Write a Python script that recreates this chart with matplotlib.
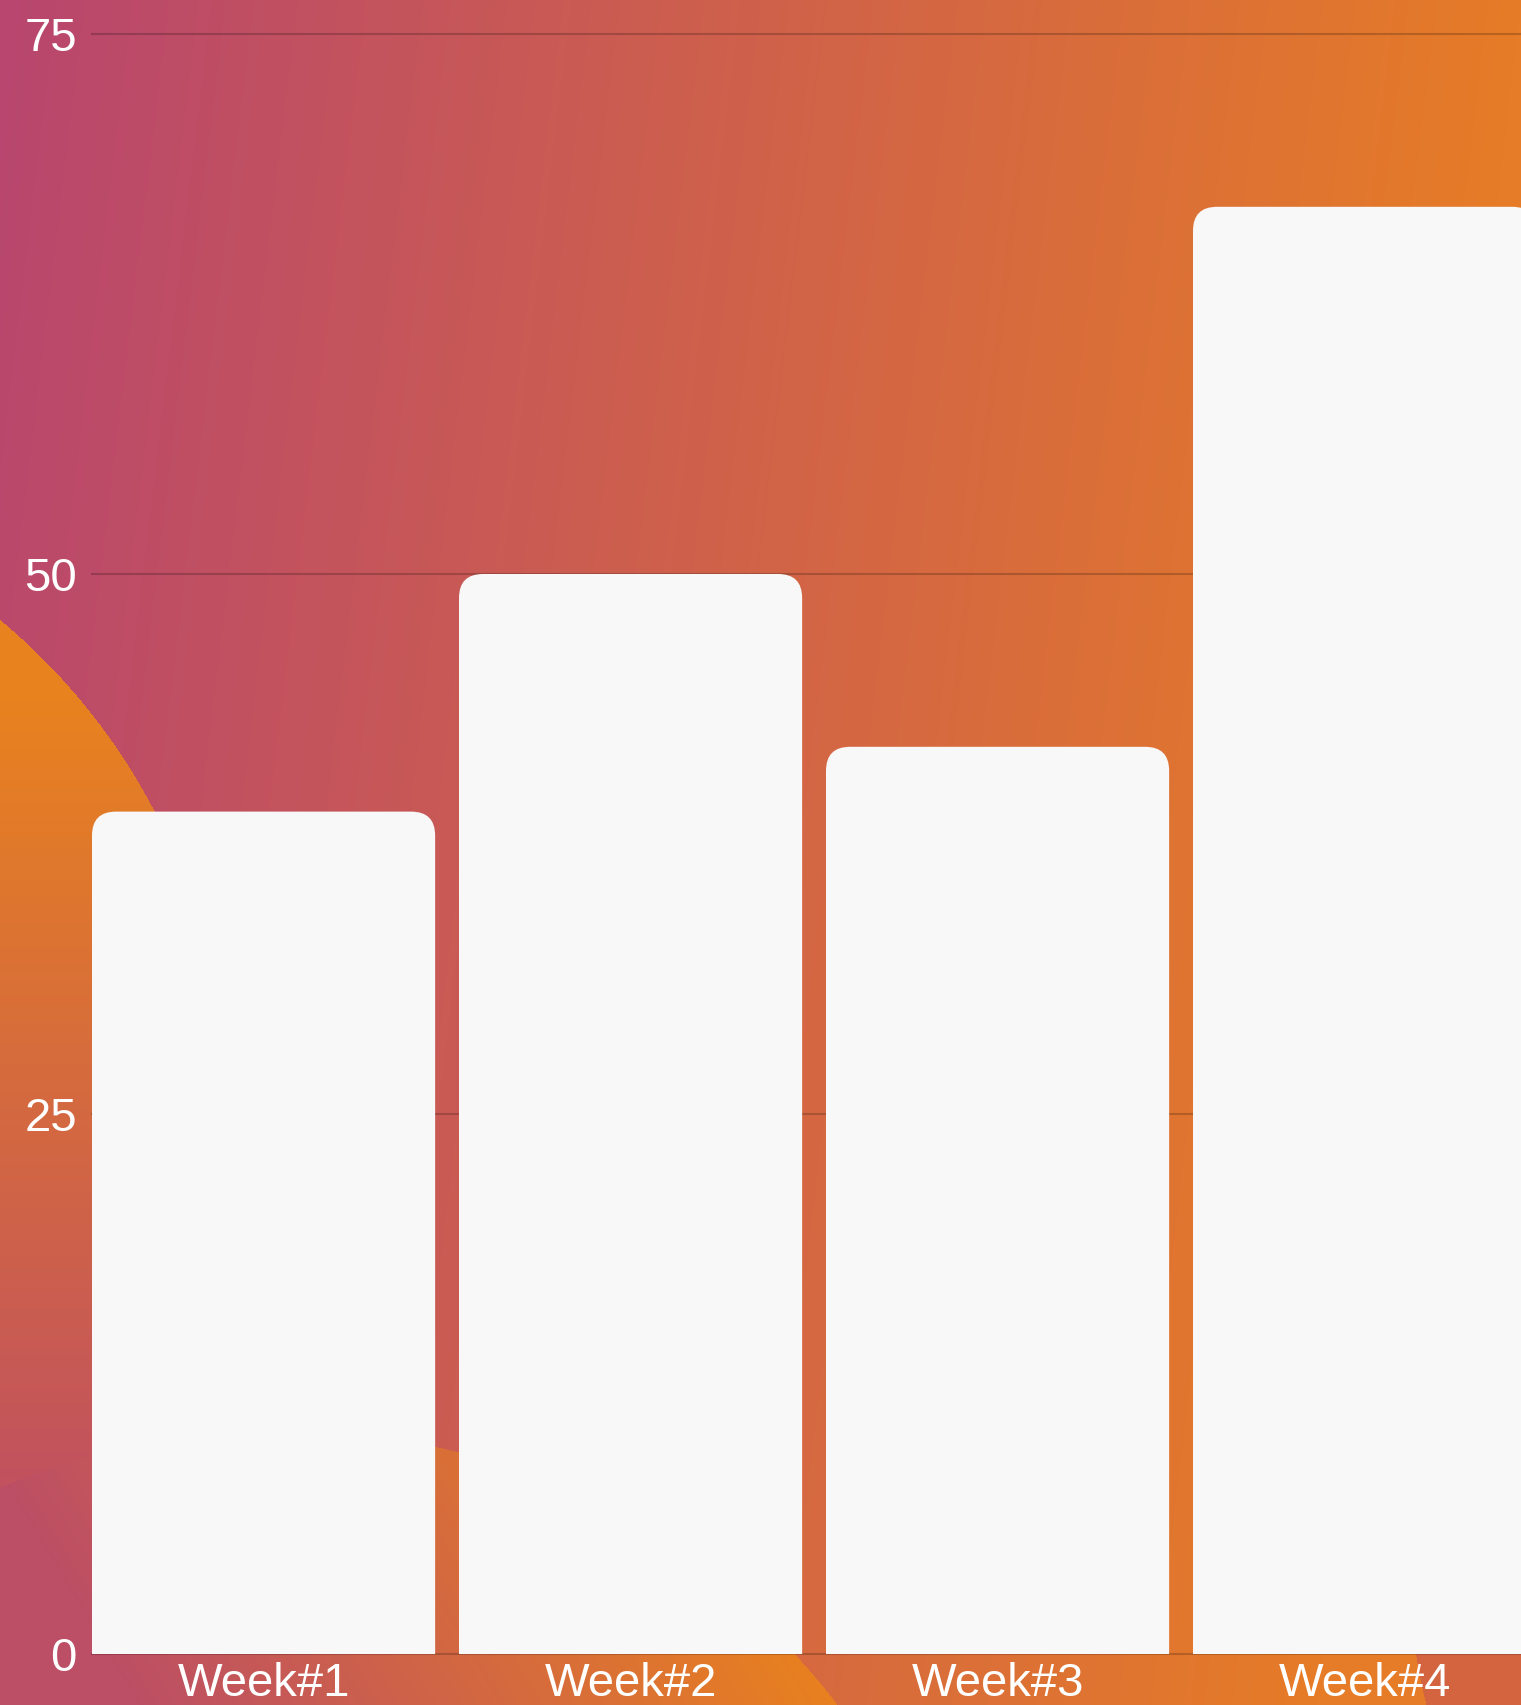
import numpy as np
import matplotlib
matplotlib.use('Agg')
import matplotlib.pyplot as plt
from matplotlib.patches import FancyBboxPatch

weeks = ['Week#1', 'Week#2', 'Week#3', 'Week#4']
values = [39, 50, 42, 67]
y_ticks = [0, 25, 50, 75]

W, H, DPI = 1521, 1705, 100
BAR_W = 0.935
plt.rcParams['font.family'] = ['Liberation Sans', 'DejaVu Sans']


def blend(c0, c1, t):
    c0 = np.array(c0) / 255
    c1 = np.array(c1) / 255
    return c0 + (c1 - c0) * t[..., None]


# background: pink -> orange gradient with a few soft circles
yy, xx = np.mgrid[0:H, 0:W].astype(float)
t = np.clip((xx + 0.12 * yy) / W, 0, 1)
bg = blend((184, 70, 111), (230, 124, 39), t)

m1 = (xx + 400) ** 2 + (yy - 1100) ** 2 <= 625 ** 2
c1 = blend((232, 130, 31), (190, 78, 100), np.clip((yy - 700) / 850, 0, 1))
bg[m1] = c1[m1]

m2 = (xx - 280) ** 2 + (yy - 2130) ** 2 <= 701 ** 2
c2 = blend((188, 78, 102), (232, 128, 32),
           np.clip((xx - 120 + 0.6 * (1690 - yy)) / 700, 0, 1))
bg[m2] = c2[m2]

m3 = (xx - 1900) ** 2 + (yy - 1580) ** 2 <= 490 ** 2
bg[m3] = np.array((212, 100, 63)) / 255

fig = plt.figure(figsize=(W / DPI, H / DPI), dpi=DPI)
bg_ax = fig.add_axes([0, 0, 1, 1])
bg_ax.imshow(bg, aspect='auto', interpolation='bilinear')
bg_ax.axis('off')

ax = fig.add_axes([92 / W, (H - 1654) / H, 1468 / W, 1620 / H])
ax.patch.set_alpha(0)
ax.set_xlim(-BAR_W / 2, len(weeks) - BAR_W / 2)
ax.set_ylim(0, 75)

for v in y_ticks:
    ax.axhline(v, color='black', alpha=0.2, lw=1.5, zorder=1, clip_on=False)

bars = ax.bar(range(len(weeks)), values, width=BAR_W, color='#F8F8F8', zorder=3)

# rounded top corners
px = ax.transData.transform([(0, 0), (1, 1)])
ux, uy = px[1] - px[0]
r = 24
for rect in bars:
    x0, w, h = rect.get_x(), rect.get_width(), rect.get_height()
    rect.set_visible(False)
    ax.add_patch(FancyBboxPatch((x0, -2 * r / uy), w, h + 2 * r / uy,
                                boxstyle=f'round,pad=0,rounding_size={r / ux}',
                                mutation_aspect=ux / uy,
                                fc='#F8F8F8', ec='none', zorder=3))

ax.set_xticks(range(len(weeks)))
ax.set_xticklabels(weeks)
ax.set_yticks(y_ticks)
ax.tick_params(axis='y', length=0, pad=10.8, labelsize=34, labelcolor='white')
ax.tick_params(axis='x', length=0, pad=6, labelsize=34, labelcolor='white')
for s in ax.spines.values():
    s.set_visible(False)

fig.savefig('out.png', dpi=DPI)
